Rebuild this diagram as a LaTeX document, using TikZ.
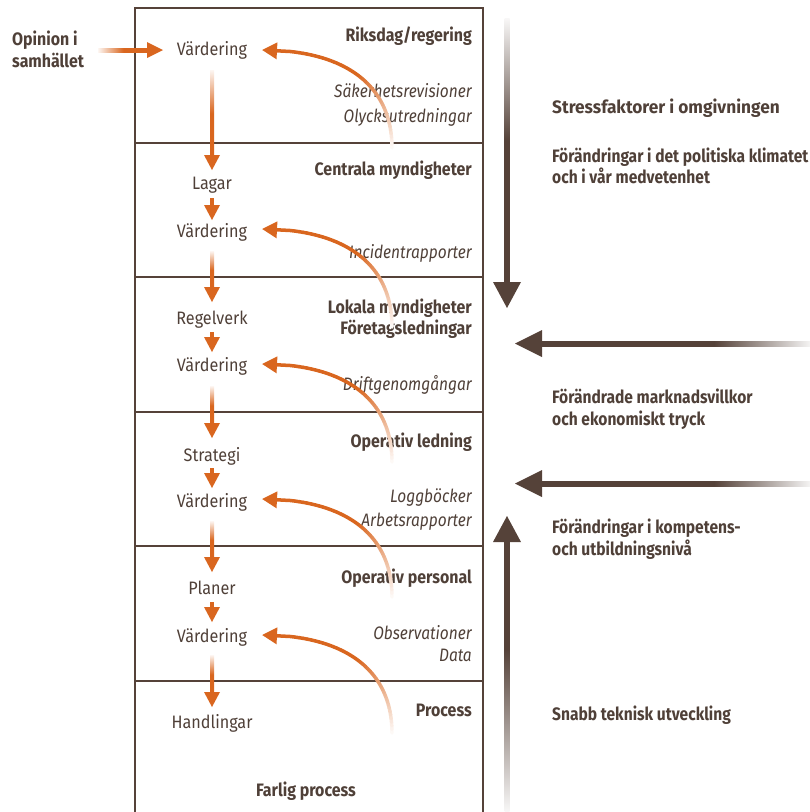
\documentclass[tikz,border=0pt]{standalone}
\usepackage{fontspec}
\setmainfont{Fira Sans}[UprightFeatures={FakeStretch=0.9}, BoldFeatures={FakeStretch=0.885}, ItalicFeatures={FakeStretch=0.86}]
\newfontfamily\heavyfont{Fira Sans}[BoldFeatures={FakeStretch=0.96}]
\newfontfamily\rightfont{Fira Sans}[BoldFeatures={FakeStretch=0.865}]
\usetikzlibrary{arrows.meta,calc}
\definecolor{orng}{HTML}{D9661F}
\definecolor{brn}{HTML}{554239}
\definecolor{txt}{HTML}{4F4038}
\pgfdeclareverticalshading{ofadeT}{100bp}{color(0bp)=(orng); color(25bp)=(orng); color(50bp)=(orng); color(75bp)=(orng!6!white); color(100bp)=(orng!6!white)}
\pgfdeclareverticalshading{bfadeT}{100bp}{color(0bp)=(brn); color(25bp)=(brn); color(52bp)=(brn); color(75bp)=(brn!4!white); color(100bp)=(brn!4!white)}
\pgfdeclareverticalshading{bfadeH}{100bp}{color(0bp)=(brn); color(25bp)=(brn); color(57bp)=(brn); color(75bp)=(brn!4!white); color(100bp)=(brn!4!white)}
\pgfdeclareverticalshading{bfadeU}{100bp}{color(0bp)=(brn); color(25bp)=(brn); color(45bp)=(brn); color(75bp)=(brn!4!white); color(100bp)=(brn!4!white)}
\tikzset{
  lbl/.style={text=txt, inner sep=0pt, font=\fontsize{18}{22}\selectfont},
  lft/.style={lbl, anchor=base},
  hdr/.style={lbl, anchor=base east, font=\fontsize{18}{22}\selectfont\bfseries},
  itl/.style={lbl, anchor=base east, font=\fontsize{18}{22}\selectfont\itshape},
  rtx/.style={lbl, anchor=base west, font=\fontsize{18}{22}\selectfont\bfseries},
  rtxr/.style={lbl, anchor=base west, font=\fontsize{18}{22}\selectfont\rightfont\bfseries},
  crv/.style={line width=3.5pt, line cap=round},
  frame/.style={draw=brn, line width=1.3pt},
}
% long faded orange arrow: name, ytop, ytip
\newcommand\olong[3]{%
  \coordinate (#1t) at (212,#2);
  \coordinate (#1p) at (212,#3);
  \shade[shading=ofadeT] ($(#1t)+(-2,0)$) rectangle ($(#1p)+(2,-13)$);
  \fill[orng] ($(#1p)+(-8,-15)$) -- ($(#1p)+(8,-15)$) -- (#1p) -- cycle;
}
% short solid orange arrow
\newcommand\oshort[3]{%
  \coordinate (#1t) at (212,#2);
  \coordinate (#1p) at (212,#3);
  \fill[orng] ($(#1t)+(-2,0)$) rectangle ($(#1p)+(2,-13)$);
  \fill[orng] ($(#1p)+(-8,-15)$) -- ($(#1p)+(8,-15)$) -- (#1p) -- cycle;
}
% faded feedback curve: name, y of tip
\newcommand\fcurve[2]{%
  \coordinate (#1s) at (392,#2+98);
  \coordinate (#1a) at (392,#2+35);
  \coordinate (#1b) at (345,#2);
  \coordinate (#1e) at (262,#2);
  \foreach \i in {0,...,43}{%
    \pgfmathsetmacro\ta{\i/50}%
    \pgfmathsetmacro\tb{(\i+1)/50}%
    \pgfmathsetmacro\pc{min(100,4+\ta*190)}%
    \path (#1s) .. controls (#1a) and (#1b) .. (#1e) coordinate[pos=\ta] (fa) coordinate[pos=\tb] (fb);
    \draw[crv, draw=orng!\pc!white] (fa) -- (fb);
  }%
  \path (#1s) .. controls (#1a) and (#1b) .. (#1e) coordinate[pos=0.88] (#1z);
  \draw[crv, line cap=butt, orng, -{Triangle[length=15pt,width=16pt]}] (#1z) -- (#1e);
}
\begin{document}
\begin{tikzpicture}[x=1pt,y=-1pt]
\useasboundingbox (0,0) rectangle (810,812);
% frame
\draw[frame] (135,813) -- (135,8) -- (483,8) -- (483,813);
\foreach \yy in {143,277,412,546,681} \draw[frame] (135,\yy) -- (483,\yy);

% left column
\node[lft] (v1) at (212,55) {Värdering};
\node[lft] (lag) at (212,189) {Lagar};
\node[lft] (v2) at (212,237) {Värdering};
\node[lft] (reg) at (212,324) {Regelverk};
\node[lft] (v3) at (212,371) {Värdering};
\node[lft] (str) at (212,461) {Strategi};
\node[lft] (v4) at (212,507) {Värdering};
\node[lft] (pla) at (212,594) {Planer};
\node[lft] (v5) at (212,642) {Värdering};
\node[lft] (han) at (212,728) {Handlingar};

% headers and sources
\node[hdr] (h1) at (472,41) {Riksdag/regering};
\node[itl] (s1a) at (472,97) {Säkerhetsrevisioner};
\node[itl] (s1b) at (472,122) {Olycksutredningar};
\node[hdr] (h2) at (472,175) {Centrala myndigheter};
\node[itl] (s2) at (472,258) {Incidentrapporter};
\node[hdr] (h3a) at (472,313) {Lokala myndigheter};
\node[hdr] (h3b) at (472,334) {Företagsledningar};
\node[itl] (s3) at (472,390) {Driftgenomgångar};
\node[hdr] (h4) at (472,447) {Operativ ledning};
\node[itl] (s4a) at (472,502) {Loggböcker};
\node[itl] (s4b) at (472,526) {Arbetsrapporter};
\node[hdr] (h5) at (472,583) {Operativ personal};
\node[itl] (s5a) at (472,639) {Observationer};
\node[itl] (s5b) at (472,661) {Data};
\node[hdr] (h6) at (472,716) {Process};
\node[hdr, anchor=base] (fp) at (306,796) {Farlig process};

% opinion
\node[rtx] (op1) at (12,45) {Opinion i};
\node[rtx] (op2) at (12,67) {samhället};

% right column texts
\node[rtx, font=\fontsize{18}{22}\selectfont\heavyfont\bfseries] (r0) at (552,113) {Stressfaktorer i omgivningen};
\node[rtxr] (r1a) at (552,162) {Förändringar i det politiska klimatet};
\node[rtxr] (r1b) at (552,183) {och i vår medvetenhet};
\node[rtxr] (r2a) at (552,403) {Förändrade marknadsvillkor};
\node[rtxr] (r2b) at (552,425) {och ekonomiskt tryck};
\node[rtxr] (r3a) at (552,533) {Förändringar i kompetens-};
\node[rtxr] (r3b) at (552,555) {och utbildningsnivå};
\node[rtxr] (r4) at (552,720) {Snabb teknisk utveckling};

% orange vertical arrows
\olong{a1}{70}{170}
\oshort{a2}{198}{220}
\olong{a3}{251}{302}
\oshort{a4}{332}{352}
\olong{a5}{386}{438}
\oshort{a6}{468}{488}
\olong{a7}{521}{572}
\oshort{a8}{602}{622}
\olong{a9}{655}{707}

% opinion arrow
\coordinate (oa) at (98,50);
\coordinate (ob) at (163,50);
\shade[shading=ofadeT, shading angle=90] ($(oa)+(0,-2)$) rectangle ($(ob)+(-14,2)$);
\fill[orng] ($(ob)+(-16,-8)$) -- ($(ob)+(-16,8)$) -- (ob) -- cycle;

% feedback curves
\fcurve{c1}{50}
\fcurve{c2}{229}
\fcurve{c3}{364}
\fcurve{c4}{499}
\fcurve{c5}{635}

% brown stress arrows
\coordinate (d1) at (507,18);
\coordinate (d2) at (507,308);
\shade[shading=bfadeT] ($(d1)+(-2.5,0)$) rectangle ($(d2)+(2.5,-24)$);
\fill[brn] ($(d2)+(-14,-26)$) -- ($(d2)+(14,-26)$) -- (d2) -- cycle;

\coordinate (e1) at (812,343.5);
\coordinate (e2) at (515,343.5);
\shade[shading=bfadeH, shading angle=-90] ($(e2)+(25,-2.5)$) rectangle ($(e1)+(0,2.5)$);
\fill[brn] ($(e2)+(27,-13.5)$) -- ($(e2)+(27,13.5)$) -- (e2) -- cycle;

\coordinate (f1) at (812,483.5);
\coordinate (f2) at (515,483.5);
\shade[shading=bfadeH, shading angle=-90] ($(f2)+(25,-2.5)$) rectangle ($(f1)+(0,2.5)$);
\fill[brn] ($(f2)+(27,-13.5)$) -- ($(f2)+(27,13.5)$) -- (f2) -- cycle;

\coordinate (g1) at (507,812);
\coordinate (g2) at (507,516);
\shade[shading=bfadeU, shading angle=180] ($(g2)+(-2.5,24)$) rectangle ($(g1)+(2.5,0)$);
\fill[brn] ($(g2)+(-14,26)$) -- ($(g2)+(14,26)$) -- (g2) -- cycle;
\end{tikzpicture}
\end{document}
